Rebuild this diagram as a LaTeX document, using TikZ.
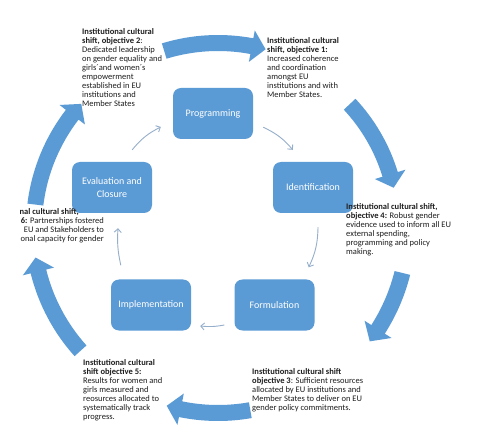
\documentclass[tikz,border=0pt]{standalone}
\usepackage{fontspec}
\setmainfont{Carlito}
\usetikzlibrary{arrows.meta}
\definecolor{cycleblue}{HTML}{5B9BD5}
\definecolor{linkblue}{HTML}{95AECB}
\definecolor{notetext}{HTML}{1E1E1E}
\tikzset{
  every picture/.style={line join=round, >=Stealth},
  stage/.style={fill=cycleblue, rounded corners=8pt, minimum width=80pt, minimum height=51pt,
    text=white, font=\fontsize{10}{13}\selectfont, align=center, inner sep=2pt},
  link/.style={draw=linkblue, line width=0.9pt, -{Straight Barb[length=3.5pt,width=7pt]}},
  note/.style={anchor=north west, inner sep=0pt, align=left, text=notetext,
    font=\fontsize{8.5}{9.1}\selectfont},
}
% big block arrow on the outer ring: tail angle, tip angle, radius
\newcommand{\cyclearrow}[3]{%
  \pgfmathsetmacro{\headangle}{#2+4.4}
  \pgfmathsetmacro{\arcout}{#3+8}
  \pgfmathsetmacro{\arcin}{#3-8}
  \pgfmathsetmacro{\headout}{#3+16}
  \pgfmathsetmacro{\headin}{#3-16}
  \fill[cycleblue] (#1:\arcout pt) arc[start angle=#1, end angle=\headangle, radius=\arcout pt]
    -- (\headangle:\headout pt) -- (#2:#3pt) -- (\headangle:\headin pt)
    -- (\headangle:\arcin pt) arc[start angle=\headangle, end angle=#1, radius=\arcin pt] -- cycle;
}

\begin{document}
\begin{tikzpicture}[x=1pt,y=1pt]
\fill[white] (0,0) rectangle (500,-435);
\useasboundingbox (0,0) rectangle (500,-435);

% outer ring of objectives
\begin{scope}[shift={(218,-227)}]
\cyclearrow{107}{75}{184}
\cyclearrow{43}{12.6}{180}
\cyclearrow{-14}{-37}{190}
\cyclearrow{-80}{-106}{186}
\cyclearrow{-138}{-170.5}{185}
\cyclearrow{173}{138}{184}
\end{scope}

% programme cycle
\node[stage] (prog) at (213,-113.5) {Programming};
\node[stage] (ident) at (313,-187.5) {Identification};
\node[stage] (form) at (274.5,-305) {Formulation};
\node[stage] (impl) at (151,-305) {Implementation};
\node[stage] (eval) at (112,-187.5) {Evaluation and\\Closure};

\draw[link] ([shift={(-20,12)}]eval.north east) to[bend left=12] ([shift={(-12,-13.5)}]prog.west);
\draw[link] ([shift={(10,12)}]prog.south east) to[bend left=12] ([shift={(20,12)}]ident.north west);
\draw[link] ([shift={(5,-14)}]ident.south) to[bend left=12] ([shift={(-6,12)}]form.north east);
\draw[link] ([shift={(-10,-20)}]form.west) to[bend left=8] ([shift={(9,-21)}]impl.east);
\draw[link] ([shift={(10,14)}]impl.north west) to[bend left=8] ([shift={(6,-15)}]eval.south);

% objectives
\node[note] (obj2) at (82,-28) {\textbf{Institutional cultural}\\\textbf{shift, objective 2}:\\
  Dedicated leadership\\on gender equality and\\girls´and women´s\\empowerment\\
  established in EU\\institutions and\\Member States};
\node[note] (obj1) at (267,-37) {\textbf{Institutional cultural}\\\textbf{shift, objective 1:}\\
  Increased coherence\\and coordination\\amongst EU\\institutions and with\\Member States.};
\node[note] (obj4) at (346,-203) {\textbf{Institutional cultural shift,}\\
  \textbf{objective 4:} Robust gender\\evidence used to inform all EU\\external spending,\\
  programming and policy\\making.};
\node[note] (obj3) at (252,-368) {\textbf{Institutional cultural shift}\\
  \textbf{objective 3}: Sufficient resources\\allocated by EU institutions and\\
  Member States to deliver on EU\\gender policy commitments.};
\node[note] (obj5) at (83,-359) {\textbf{Institutional cultural}\\\textbf{shift objective 5:}\\
  Results for women and\\girls measured and\\reosurces allocated to\\systematically track\\progress.};
\node[note, anchor=north east, align=right] (obj6) at (104,-208) {\textbf{nal cultural shift,}\hspace*{25pt}\\
  \textbf{6:} Partnerships fostered\\EU and Stakeholders to\hspace*{5pt}\\onal capacity for gender};
\end{tikzpicture}
\end{document}
